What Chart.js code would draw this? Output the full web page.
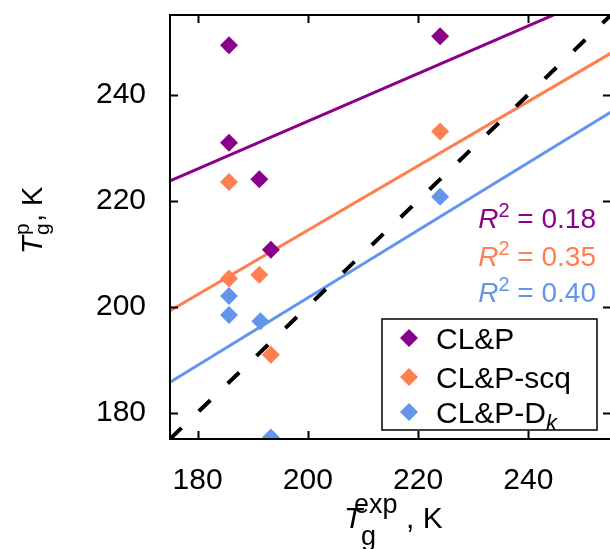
<!DOCTYPE html>
<html>
	<head>
		<meta charset="UTF-8">
		<style>
			html, body { margin: 0; padding: 0; overflow: hidden; background: #fff; }
		</style>
	</head>
	<script src="https://cdn.jsdelivr.net/npm/chart.js@4.4.1/dist/chart.umd.min.js"></script>
	<body>
		<canvas id="myChart" width="620" height="549"></canvas>
		<script>
			// Tg exp (x) for the five materials, same for all three models
			var tgExp = [185.7, 185.7, 191.2, 193.3, 224.0];
			var tgExpDk = [185.7, 185.7, 191.4, 193.3, 224.0];
			var clp = [249.3, 230.9, 224.0, 210.7, 251.0];
			var clpScq = [223.5, 205.3, 206.0, 190.9, 233.0];
			var clpDk = [202.0, 198.4, 197.2, 175.3, 220.7];

			// fit lines read at the two ends of the x range
			var fitX = [175, 255];
			var fitClp = [223.7, 259.7];
			var fitScq = [199.2, 247.8];
			var fitDk = [185.7, 236.7];
			var diagX = [175, 255];
			var diagY = [175, 255];

			var r2 = ["0.18", "0.35", "0.40"];
			var names = ["CL&P", "CL&P-scq", "CL&P-D"];
			var xTicks = [180, 200, 220, 240];
			var yTicks = [180, 200, 220, 240];

			var purple = "#8b008b";
			var orange = "#ff7f50";
			var blue = "#6495ed";
			var colors = [purple, orange, blue];
			var FONT = "'Liberation Sans', Arial, sans-serif";

			function pts(xs, ys) {
				return xs.map(function (x, i) { return {x: x, y: ys[i]}; });
			}

			function pointSet(label, xs, ys, c) {
				return {
					label: label, data: pts(xs, ys), order: 0,
					pointStyle: "rectRot", pointRadius: 9, pointHoverRadius: 9,
					backgroundColor: c, borderColor: c, borderWidth: 0, showLine: false
				};
			}

			function lineSet(xs, ys, c, dash) {
				return {
					data: pts(xs, ys), order: 1, showLine: true,
					pointRadius: 0, borderColor: c, borderWidth: dash ? 4 : 3,
					borderDash: dash || [], borderCapStyle: "butt", fill: false
				};
			}

			// draw text pieces; parts = [text, size, italic, dy]
			function drawParts(ctx, parts, x, y) {
				parts.forEach(function (p) {
					ctx.font = (p[2] ? "italic " : "") + p[1] + "px " + FONT;
					ctx.fillText(p[0], x, y + (p[3] || 0));
					x += ctx.measureText(p[0]).width;
				});
				return x;
			}
			function partsWidth(ctx, parts) {
				var w = 0;
				parts.forEach(function (p) {
					ctx.font = (p[2] ? "italic " : "") + p[1] + "px " + FONT;
					w += ctx.measureText(p[0]).width;
				});
				return w;
			}

			function diamond(ctx, x, y, r, c) {
				ctx.fillStyle = c;
				ctx.beginPath();
				ctx.moveTo(x, y - r); ctx.lineTo(x + r, y); ctx.lineTo(x, y + r); ctx.lineTo(x - r, y);
				ctx.closePath();
				ctx.fill();
			}

			var extras = {
				id: "extras",
				afterDraw: function (chart) {
					var ctx = chart.ctx;
					var a = chart.chartArea;
					var xs = chart.scales.x, ys = chart.scales.y;
					ctx.save();
					ctx.strokeStyle = "#000";
					ctx.lineWidth = 2;
					ctx.strokeRect(a.left, a.top, a.right - a.left, a.bottom - a.top);
					// inward ticks on all sides
					ctx.beginPath();
					xTicks.forEach(function (v) {
						var px = Math.round(xs.getPixelForValue(v)) + 0.5;
						ctx.moveTo(px, a.bottom); ctx.lineTo(px, a.bottom - 8);
						ctx.moveTo(px, a.top); ctx.lineTo(px, a.top + 8);
					});
					yTicks.forEach(function (v) {
						var py = Math.round(ys.getPixelForValue(v)) + 0.5;
						ctx.moveTo(a.left, py); ctx.lineTo(a.left + 8, py);
						ctx.moveTo(a.right, py); ctx.lineTo(a.right - 8, py);
					});
					ctx.stroke();

					// R^2 labels
					ctx.textBaseline = "alphabetic";
					ctx.textAlign = "left";
					var rowY = [228, 266, 302];
					r2.forEach(function (v, i) {
						var parts = [["R", 28, true, 0], ["2", 20, false, -11], [" = " + v, 28, false, 0]];
						var w = partsWidth(ctx, parts);
						ctx.fillStyle = colors[i];
						drawParts(ctx, parts, 596 - w, rowY[i]);
					});

					// legend box
					ctx.lineWidth = 1.5;
					ctx.strokeStyle = "#000";
					ctx.fillStyle = "#fff";
					ctx.fillRect(382, 319, 215, 111);
					ctx.strokeRect(382, 319, 215, 111);
					var legY = [338, 377, 412];
					names.forEach(function (n, i) {
						diamond(ctx, 409, legY[i], 9, colors[i]);
						ctx.fillStyle = "#000";
						var parts = [[n, 30, false, 0]];
						if (i === 2) parts.push(["k", 22, true, 7]);
						drawParts(ctx, parts, 436, legY[i] + 11);
					});

					// x title: T_g^exp, K
					ctx.fillStyle = "#000";
					ctx.font = "italic 30px " + FONT;
					ctx.fillText("T", 344, 528);
					ctx.font = "27px " + FONT;
					ctx.fillText("exp", 354, 513);
					ctx.fillText("g", 361, 545);
					ctx.font = "30px " + FONT;
					ctx.fillText(", K", 406, 528);

					// y title: T_g^p, K (rotated)
					ctx.translate(42, 254);
					ctx.rotate(-Math.PI / 2);
					ctx.font = "italic 29px " + FONT;
					ctx.fillText("T", 0, 0);
					ctx.font = "21px " + FONT;
					ctx.fillText("p", 19, -13);
					ctx.fillText("g", 19, 7);
					ctx.font = "29px " + FONT;
					ctx.fillText(", K", 32, 0);
					ctx.restore();
				}
			};

			new Chart("myChart", {
				type: "scatter",
				data: {
					datasets: [
						lineSet(diagX, diagY, "#000", [16, 24]),
						lineSet(fitX, fitClp, purple),
						lineSet(fitX, fitScq, orange),
						lineSet(fitX, fitDk, blue),
						pointSet(names[0], tgExp, clp, purple),
						pointSet(names[1], tgExp, clpScq, orange),
						pointSet(names[2] + "k", tgExpDk, clpDk, blue)
					]
				},
				options: {
					responsive: false,
					animation: false,
					events: [],
					layout: {padding: {left: 0, top: 15, right: 3, bottom: 0}},
					plugins: {legend: {display: false}, tooltip: {enabled: false}},
					scales: {
						x: {
							type: "linear", min: 175, max: 255,
							grid: {display: false}, border: {display: false},
							afterBuildTicks: function (s) { s.ticks = xTicks.map(function (v) { return {value: v}; }); },
							afterFit: function (s) { s.height = 110; s.paddingLeft = 0; s.paddingRight = 0; },
							ticks: {color: "#000", padding: 16, maxRotation: 0, font: {family: FONT, size: 30}}
						},
						y: {
							type: "linear", min: 175, max: 255,
							grid: {display: false}, border: {display: false},
							afterBuildTicks: function (s) { s.ticks = yTicks.map(function (v) { return {value: v}; }); },
							afterFit: function (s) { s.width = 170; s.paddingTop = 0; s.paddingBottom = 0; },
							ticks: {color: "#000", padding: 16, font: {family: FONT, size: 30}}
						}
					}
				},
				plugins: [extras]
			});
		</script>
	</body>
</html>
